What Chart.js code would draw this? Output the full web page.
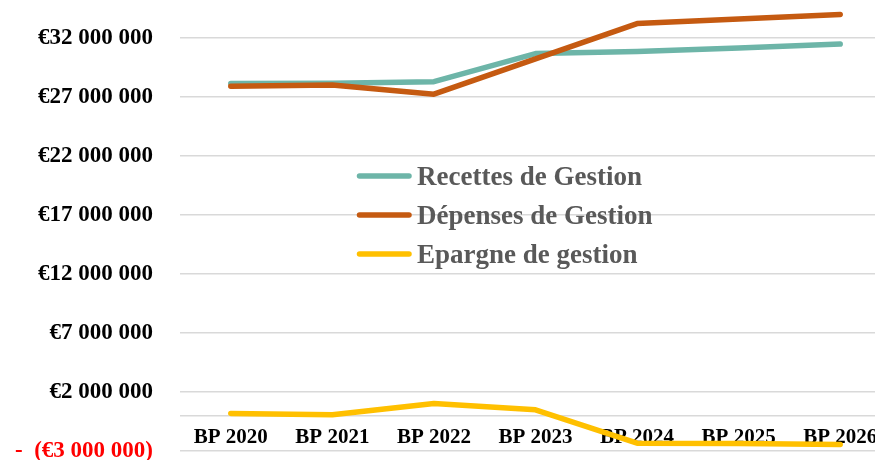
<!DOCTYPE html>
<html>
<head>
<meta charset="utf-8">
<script src="https://cdn.jsdelivr.net/npm/chart.js@4.4.1/dist/chart.umd.min.js"></script>
<style>
    html, body { margin: 0; padding: 0; background: #fff; }
    #wrap { position: relative; width: 875px; height: 460px; overflow: hidden; }
    #chartBox { position: absolute; left: 0; top: -62px; }
</style>
</head>
<body>
<div id="wrap">
    <div id="chartBox"><canvas id="gestionChart" width="920" height="554"></canvas></div>
</div>
<script>
// data
const years = ['BP 2020', 'BP 2021', 'BP 2022', 'BP 2023', 'BP 2024', 'BP 2025', 'BP 2026'];
const recettes = [28130000, 28150000, 28290000, 30670000, 30840000, 31150000, 31470000];
const depenses = [27900000, 28010000, 27230000, 30220000, 33210000, 33590000, 33980000];
const epargne = [200000, 80000, 1040000, 500000, -2320000, -2350000, -2430000];
const yTicks = [-3000000, 2000000, 7000000, 12000000, 17000000, 22000000, 27000000, 32000000];
const zeroLine = 0;

const CANVAS_SHIFT = 62; // canvas sits 62px above the visible frame
const legendRows = [176, 215, 254];

function formatEuro(v) {
    if (v === zeroLine) return '';
    const txt = '€' + String(Math.abs(v)).replace(/\B(?=(\d{3})+(?!\d))/g, ' ');
    return v < 0 ? '-  (' + txt + ')' : txt;
}

// legend drawn inside the plot, like the original
const insideLegend = {
    id: 'insideLegend',
    afterDatasetsDraw(chart) {
        const ctx = chart.ctx;
        ctx.save();
        chart.data.datasets.forEach((ds, i) => {
            const y = legendRows[i] + CANVAS_SHIFT;
            ctx.strokeStyle = ds.borderColor;
            ctx.lineWidth = 5.5;
            ctx.lineCap = 'round';
            ctx.beginPath();
            ctx.moveTo(359.5, y);
            ctx.lineTo(409, y);
            ctx.stroke();
            ctx.fillStyle = '#595959';
            ctx.font = 'bold 27px "Liberation Serif"';
            ctx.textBaseline = 'alphabetic';
            ctx.fillText(ds.label, 417, y + 9);
        });
        ctx.restore();
    }
};

const ctx = document.getElementById('gestionChart').getContext('2d');
new Chart(ctx, {
    type: 'line',
    data: {
        labels: years,
        datasets: [{
            label: 'Recettes de Gestion',
            data: recettes,
            borderColor: '#6db5a8',
            order: 3
        }, {
            label: 'Dépenses de Gestion',
            data: depenses,
            borderColor: '#c55a11',
            order: 2
        }, {
            label: 'Epargne de gestion',
            data: epargne,
            borderColor: '#ffc000',
            order: 1
        }]
    },
    options: {
        responsive: false,
        animation: false,
        layout: {
            padding: { top: 38, bottom: 10, left: 0, right: 29 }
        },
        elements: {
            point: { radius: 0 },
            line: {
                borderWidth: 5.5,
                tension: 0,
                fill: false,
                borderCapStyle: 'round',
                borderJoinStyle: 'round'
            }
        },
        plugins: {
            legend: { display: false },
            tooltip: { enabled: false }
        },
        scales: {
            x: {
                position: { y: 0 },
                offset: true,
                z: 1,
                grid: { display: false, drawTicks: false },
                border: { display: false },
                ticks: {
                    color: '#000',
                    padding: 9,
                    maxRotation: 0,
                    autoSkip: false,
                    font: { family: '"Liberation Serif"', size: 21, weight: 'bold' }
                }
            },
            y: {
                min: -3000000,
                max: 37000000,
                border: { display: false },
                grid: {
                    color: '#d9d9d9',
                    lineWidth: 1.5,
                    drawTicks: false
                },
                afterBuildTicks: function (scale) {
                    scale.ticks = yTicks.concat([zeroLine]).sort((a, b) => a - b).map(v => ({ value: v }));
                },
                afterFit: function (scale) {
                    scale.width = 180;
                },
                ticks: {
                    padding: 27,
                    color: c => (c.tick && c.tick.value < 0 ? '#ff0000' : '#000'),
                    font: { family: '"Liberation Serif"', size: 23, weight: 'bold' },
                    callback: value => formatEuro(value)
                }
            }
        }
    },
    plugins: [insideLegend]
});
</script>
</body>
</html>
